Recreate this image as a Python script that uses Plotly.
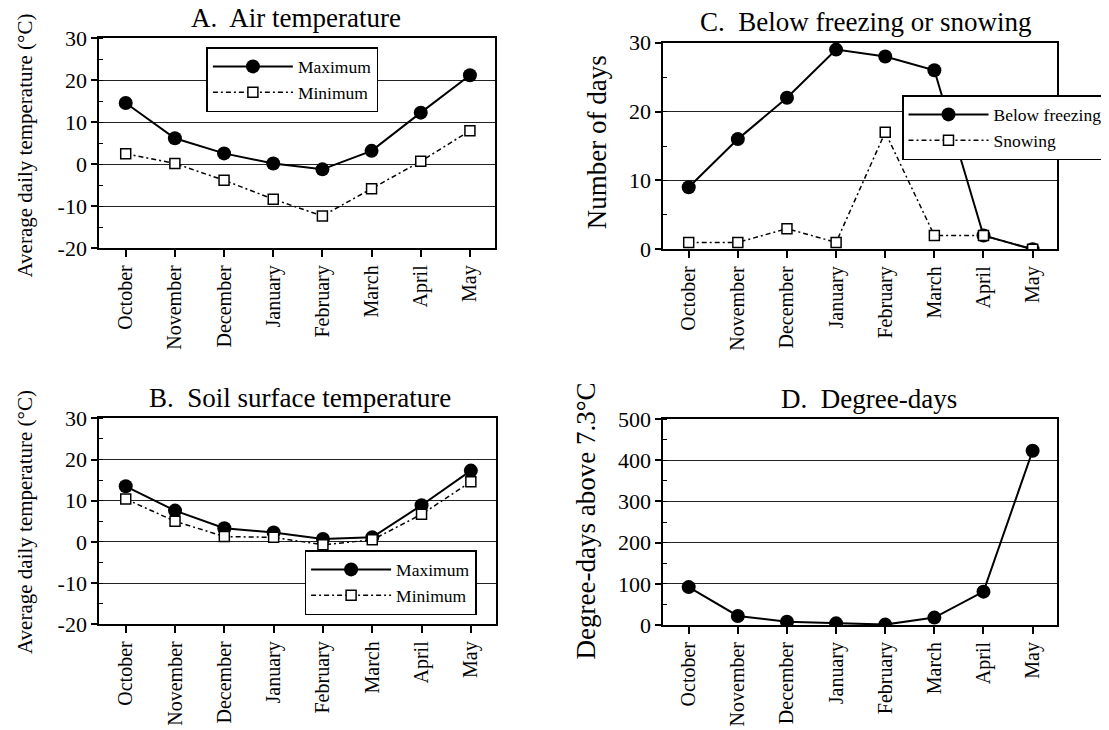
import plotly.graph_objects as go

months = ["October", "November", "December", "January", "February", "March", "April", "May"]

air_max = [14.6, 6.2, 2.6, 0.2, -1.2, 3.2, 12.3, 21.2]
air_min = [2.5, 0.2, -3.8, -8.3, -12.3, -5.8, 0.7, 8.0]
soil_max = [13.5, 7.6, 3.3, 2.3, 0.7, 1.1, 8.9, 17.3]
soil_min = [10.4, 5.0, 1.3, 1.1, -0.7, 0.5, 6.7, 14.6]
days_freezing = [9, 16, 22, 29, 28, 26, 2, 0]
days_snowing = [1, 1, 3, 1, 17, 2, 2, 0]
degree_days = [92, 22, 8, 4, 1, 18, 81, 423]

temp_ticks = [-20, -10, 0, 10, 20, 30]
temp_labels = ["-20", "-10", "0", "10", "20", "30"]
day_ticks = [0, 10, 20, 30]
dd_ticks = [0, 100, 200, 300, 400, 500]

FONT = "Liberation Serif, Times New Roman, serif"
DASH = "5px,3px,2px,3px"
W, H = 1109, 730
OFF = 8  # page body margin


def px(v):
    return (v - OFF) / W


def py(v):
    return 1 - (v - OFF) / H


fig = go.Figure()


def solid(x, y, name, xa, ya, legend, show=True):
    return go.Scatter(x=x, y=y, name=name, xaxis=xa, yaxis=ya, legend=legend,
                      showlegend=show, mode="lines+markers",
                      line=dict(color="black", width=2),
                      marker=dict(symbol="circle", size=14, color="black"))


def dashed(x, y, name, xa, ya, legend):
    return go.Scatter(x=x, y=y, name=name, xaxis=xa, yaxis=ya, legend=legend,
                      mode="lines+markers",
                      line=dict(color="black", width=1.5, dash=DASH),
                      marker=dict(symbol="square", size=10, color="white",
                                  line=dict(color="black", width=1.5)))


fig.add_trace(solid(months, air_max, "Maximum", "x", "y", "legend"))
fig.add_trace(dashed(months, air_min, "Minimum", "x", "y", "legend"))
fig.add_trace(solid(months, soil_max, "Maximum", "x2", "y2", "legend2"))
fig.add_trace(dashed(months, soil_min, "Minimum", "x2", "y2", "legend2"))
fig.add_trace(solid(months, days_freezing, "Below freezing", "x3", "y3", "legend3"))
fig.add_trace(dashed(months, days_snowing, "Snowing", "x3", "y3", "legend3"))
fig.add_trace(solid(months, degree_days, "Degree-days", "x4", "y4", "legend", show=False))


def xaxis(l, r, anchor, rng):
    return dict(domain=[px(l), px(r)], anchor=anchor, type="category", range=rng,
                showline=True, linecolor="black", linewidth=2, mirror=True,
                ticks="outside", ticklen=7, tickwidth=1.5, tickcolor="black",
                tickangle=-90, showgrid=False, zeroline=False,
                tickfont=dict(family=FONT, size=20, color="black"))


def yaxis(top, bottom, anchor, rng, tickvals, ticktext, minor):
    return dict(domain=[py(bottom), py(top)], anchor=anchor, range=rng,
                tickmode="array", tickvals=tickvals, ticktext=ticktext,
                showline=True, linecolor="black", linewidth=2, mirror=True,
                ticks="outside", ticklen=6, tickwidth=1.5, tickcolor="black",
                showgrid=True, gridcolor="#222222", gridwidth=1, zeroline=False,
                minor=dict(dtick=minor, tick0=0, ticks="inside", ticklen=4,
                           tickcolor="black", tickwidth=1, showgrid=False),
                tickfont=dict(family=FONT, size=22, color="black"))


fig.update_layout(
    width=W, height=H,
    margin=dict(l=0, r=0, t=0, b=0, autoexpand=False),
    paper_bgcolor="white", plot_bgcolor="white",
    font=dict(family=FONT, color="black"),
    xaxis=xaxis(99.3, 495, "y", [-0.537, 7.51]),
    yaxis=yaxis(38.3, 248.3, "x", [-20, 30], temp_ticks, temp_labels, 5),
    xaxis2=xaxis(99.3, 496, "y2", [-0.536, 7.51]),
    yaxis2=yaxis(418.3, 624.3, "x2", [-20, 30], temp_ticks, temp_labels, 5),
    xaxis3=xaxis(663.3, 1056.7, "y3", [-0.517, 7.49]),
    yaxis3=yaxis(42.7, 249.3, "x3", [0, 30], day_ticks, [str(v) for v in day_ticks], 5),
    xaxis4=xaxis(663.3, 1056.7, "y4", [-0.517, 7.49]),
    yaxis4=yaxis(419, 625, "x4", [0, 500], dd_ticks, [str(v) for v in dd_ticks], 50),
)

legend_style = dict(xref="paper", yref="paper", xanchor="left", yanchor="top",
                    bgcolor="white", bordercolor="black", borderwidth=1.5,
                    itemwidth=80, font=dict(family=FONT, size=17.5, color="black"))
fig.update_layout(
    legend=dict(x=px(206.4), y=py(47), **legend_style),
    legend2=dict(x=px(304.6), y=py(550), **legend_style),
    legend3=dict(x=px(902), y=py(95), **legend_style),
)

titles = [
    ("A.  Air temperature", 296, 35),
    ("B.  Soil surface temperature", 300, 415),
    ("C.  Below freezing or snowing", 865, 39),
    ("D.  Degree-days", 869, 416),
]
for text, x, y in titles:
    fig.add_annotation(text=text, x=px(x), y=py(y), xref="paper", yref="paper",
                       xanchor="center", yanchor="bottom", showarrow=False,
                       font=dict(family=FONT, size=27, color="black"))

ytitles = [
    ("Average daily temperature (°C)", 25, 145.5, 21),
    ("Average daily temperature (°C)", 25, 522, 21),
    ("Number of days", 596.7, 142.5, 27),
    ("Degree-days above 7.3°C", 585, 521.5, 27),
]
for text, x, y, size in ytitles:
    fig.add_annotation(text=text, x=px(x), y=py(y), xref="paper", yref="paper",
                       xanchor="center", yanchor="middle", textangle=-90, showarrow=False,
                       font=dict(family=FONT, size=size, color="black"))

fig.write_html("out.html")
